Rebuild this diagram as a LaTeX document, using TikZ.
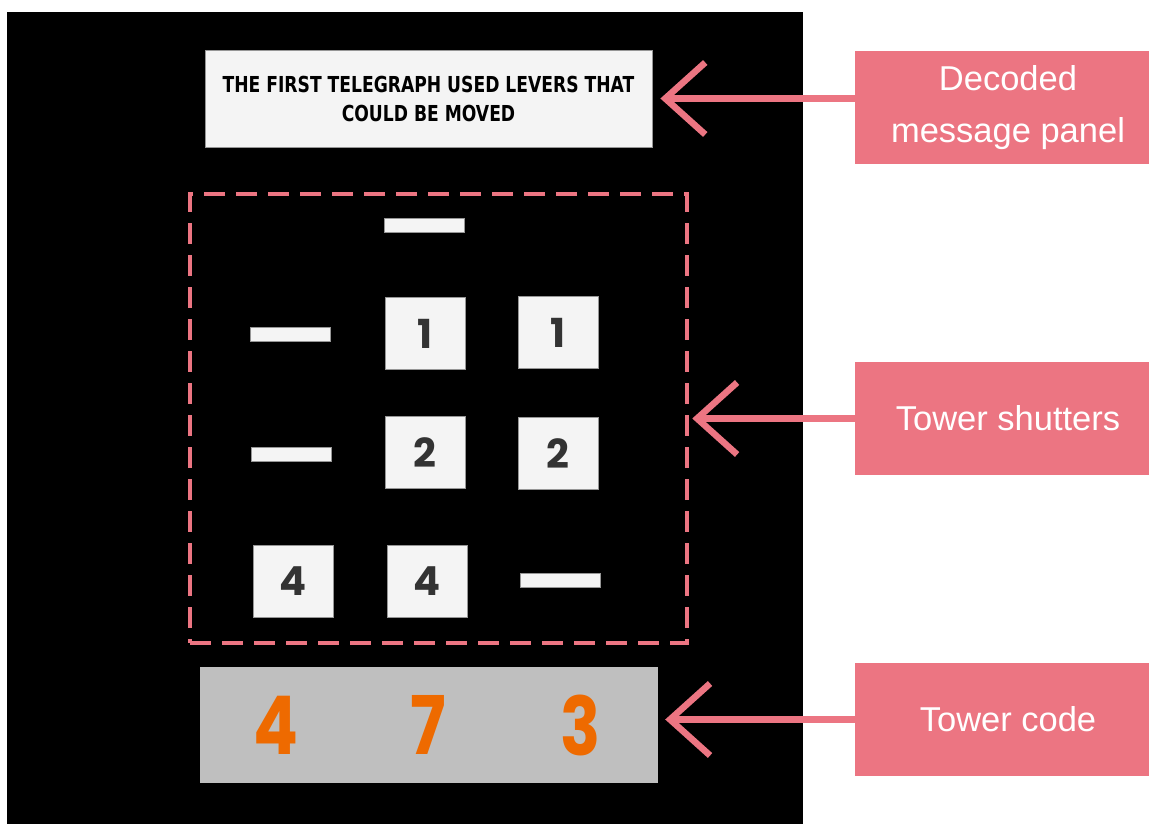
\documentclass[tikz,border=0pt]{standalone}
\usepackage{fontspec}
\setmainfont{Liberation Sans}
\newfontfamily\msgfont{DejaVu Sans}[FakeStretch=0.78]
\newfontfamily\digfont{Poppins}
\newfontfamily\codefont{Poppins}[FakeStretch=0.82]
\usetikzlibrary{arrows.meta}
\definecolor{pinkc}{RGB}{236,117,130}
\definecolor{panelc}{RGB}{244,244,244}
\definecolor{edgec}{RGB}{150,150,150}
\definecolor{digitc}{RGB}{51,51,51}
\definecolor{codebg}{RGB}{191,191,191}
\definecolor{orangec}{RGB}{238,106,0}
\tikzset{
  shutter/.style={fill=panelc, draw=edgec, line width=0.8pt, minimum width=80pt, minimum height=72pt, inner sep=0pt, font=\digfont\bfseries\fontsize{40}{40}\selectfont, text=digitc},
  shutbar/.style={fill=panelc, draw=edgec, line width=0.8pt, minimum width=80pt, minimum height=14pt, inner sep=0pt},
  callout/.style={fill=pinkc, text=white, minimum width=306pt, minimum height=113pt, inner sep=0pt, align=center, font=\fontsize{34.5}{52}\selectfont},
  pointer/.style={draw=pinkc, line width=6.5pt, -{Straight Barb[length=40pt,width=72pt]}},
  codedigit/.style={text=orangec, inner sep=0pt, font=\codefont\bfseries\fontsize{81}{81}\selectfont},
}
\begin{document}
\begin{tikzpicture}[x=1pt,y=-1pt]
\useasboundingbox (0,0) rectangle (1149,824);
\fill[white] (0,0) rectangle (1149,824);
\fill[black] (7,12) rectangle (803,824);
% message panel
\node[fill=panelc, draw=edgec, line width=0.8pt, minimum width=447pt, minimum height=97pt, inner sep=0pt, align=center, font=\msgfont\bfseries\fontsize{22}{29}\selectfont, text=black] (msg) at (428.5,98.5) {THE FIRST TELEGRAPH USED LEVERS THAT\\COULD BE MOVED};
% shutters frame
\node[draw=pinkc, line width=4.5pt, dash pattern=on 21pt off 11pt, minimum width=497pt, minimum height=449pt, inner sep=0pt] (shut) at (438.5,418.5) {};
\node[shutbar] (b0) at (424,225) {};
\node[shutbar] (b1) at (290,334) {};
\node[shutter] (s11) at (425,333.5) {1};
\node[shutter] (s12) at (558,332.5) {1};
\node[shutbar] (b2) at (291,454) {};
\node[shutter] (s21) at (425,452.5) {2};
\node[shutter] (s22) at (558,453.5) {2};
\node[shutter] (s31) at (293,581) {4};
\node[shutter] (s32) at (427,581.5) {4};
\node[shutbar] (b3) at (560,580.5) {};
% code panel
\node[fill=codebg, minimum width=458pt, minimum height=116pt, inner sep=0pt] (code) at (429,725) {};
\node[codedigit] (c1) at (276,725) {4};
\node[codedigit] (c2) at (428,725) {7};
\node[codedigit] (c3) at (581,725) {3};
% callouts
\node[callout] (dec) at (1008,107.5) {Decoded\\message panel};
\node[callout] (tow) at (1008,418.5) {Tower shutters};
\node[callout] (tcode) at (1008,719.5) {Tower code};
% pointers
\draw[pointer, shorten >=8pt] (msg.east -| dec.west) -- (msg.east);
\draw[pointer, shorten >=3pt] (shut.east -| tow.west) -- (shut.east);
\draw[pointer, shorten >=7pt] (tcode.west) -- (tcode.west -| code.east);
\end{tikzpicture}
\end{document}
